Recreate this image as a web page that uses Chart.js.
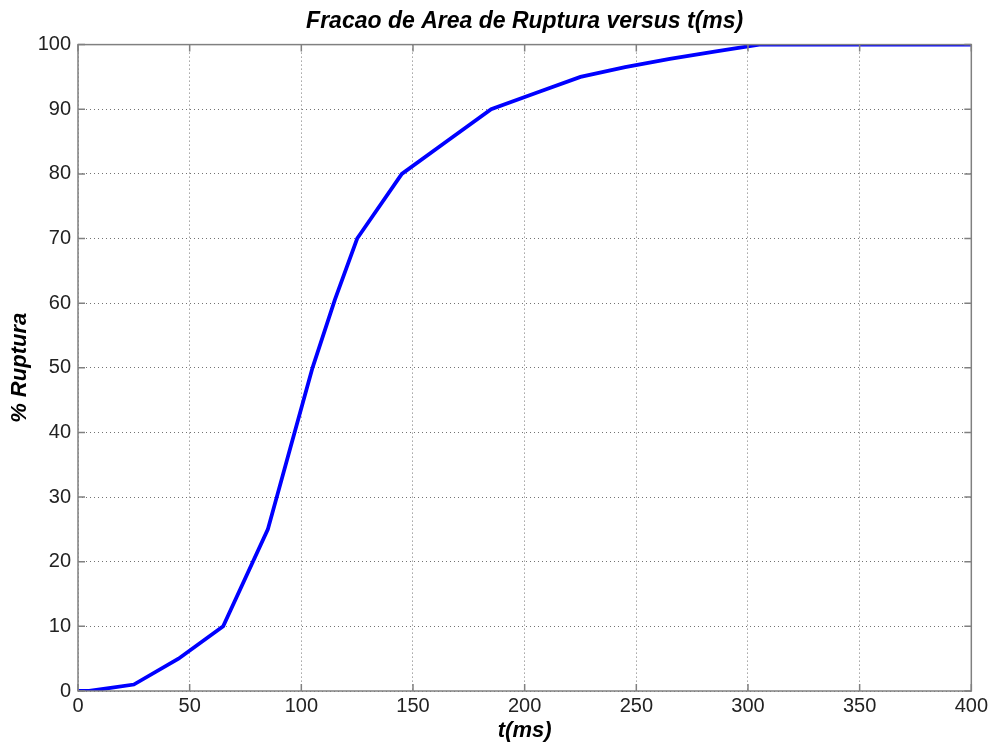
<!DOCTYPE html>
<html>
<head>
<meta charset="utf-8">
<script src="https://cdn.jsdelivr.net/npm/chart.js@4"></script>
<style>
  html, body { margin: 0; padding: 0; background: #fff; }
  #wrap { width: 991px; height: 744px; }
</style>
</head>
<body>
<div id="wrap"><canvas id="rupturaChart" width="991" height="744"></canvas></div>
<script>
const tempos = [0, 5, 25, 45, 65, 85, 95, 105, 115, 125, 145, 165, 185, 205, 225, 245, 265, 285, 305, 325, 345, 365, 385, 400];
const ruptura = [0, 0, 1, 5, 10, 25, 37.5, 50, 60.5, 70, 80, 85, 90, 92.5, 95, 96.5, 97.8, 98.9, 100, 100, 100, 100, 100, 100];
const xTicks = [0, 50, 100, 150, 200, 250, 300, 350, 400];
const yTicks = [0, 10, 20, 30, 40, 50, 60, 70, 80, 90, 100];

// caixa em volta da area + ticks para dentro (estilo matlab)
const boxAndTicks = {
    id: 'boxAndTicks',
    afterDraw(chart) {
        const c = chart.ctx;
        const a = chart.chartArea;
        const xs = chart.scales.x, ys = chart.scales.y;
        c.save();
        c.strokeStyle = '#808080';
        c.lineWidth = 1.5;
        c.strokeRect(a.left, a.top, a.right - a.left, a.bottom - a.top);
        c.beginPath();
        for (let v of xTicks) {
            let px = xs.getPixelForValue(v);
            c.moveTo(px, a.bottom); c.lineTo(px, a.bottom - 7);
            c.moveTo(px, a.top); c.lineTo(px, a.top + 7);
        }
        for (let v of yTicks) {
            let py = ys.getPixelForValue(v);
            c.moveTo(a.left, py); c.lineTo(a.left + 7, py);
            c.moveTo(a.right, py); c.lineTo(a.right - 7, py);
        }
        c.stroke();
        c.restore();
    }
};

const ctx = document.getElementById('rupturaChart').getContext('2d');
const rupturaChart = new Chart(ctx, {
    type: 'line',
    data: {
        datasets: [{
            data: tempos.map((t, i) => ({x: t, y: ruptura[i]})),
            borderColor: '#0000ff',
            borderWidth: 3.8,
            pointRadius: 0,
            tension: 0,
            fill: false
        }]
    },
    options: {
        responsive: false,
        animation: false,
        layout: { padding: { right: 19 } },
        plugins: {
            legend: { display: false },
            tooltip: { enabled: false },
            title: {
                display: true,
                fullSize: false,
                text: 'Fracao de Area de Ruptura versus t(ms)',
                color: '#000',
                font: { family: 'Liberation Sans', size: 23, style: 'italic', weight: 'bold' },
                padding: { top: 8, bottom: 9 }
            }
        },
        scales: {
            x: {
                type: 'linear',
                min: 0, max: 400,
                afterBuildTicks: s => { s.ticks = xTicks.map(v => ({value: v})); },
                afterFit: s => { s.height = 53; },
                ticks: { color: '#222', padding: 3, font: { family: 'Liberation Sans', size: 20 } },
                grid: { color: 'rgba(0,0,0,0.55)', drawTicks: false },
                border: { display: false, dash: [1, 3] },
                title: {
                    display: true, text: 't(ms)', color: '#000', padding: 0,
                    font: { family: 'Liberation Sans', size: 22, style: 'italic', weight: 'bold' }
                }
            },
            y: {
                min: 0, max: 100,
                afterBuildTicks: s => { s.ticks = yTicks.map(v => ({value: v})); },
                afterFit: s => { s.width = 78; },
                ticks: { color: '#222', padding: 7, font: { family: 'Liberation Sans', size: 20 } },
                grid: { color: 'rgba(0,0,0,0.55)', drawTicks: false },
                border: { display: false, dash: [1, 3] },
                title: {
                    display: true, text: '% Ruptura', color: '#000', padding: { top: 7, bottom: 0 },
                    font: { family: 'Liberation Sans', size: 22, style: 'italic', weight: 'bold' }
                }
            }
        }
    },
    plugins: [boxAndTicks]
});
</script>
</body>
</html>
